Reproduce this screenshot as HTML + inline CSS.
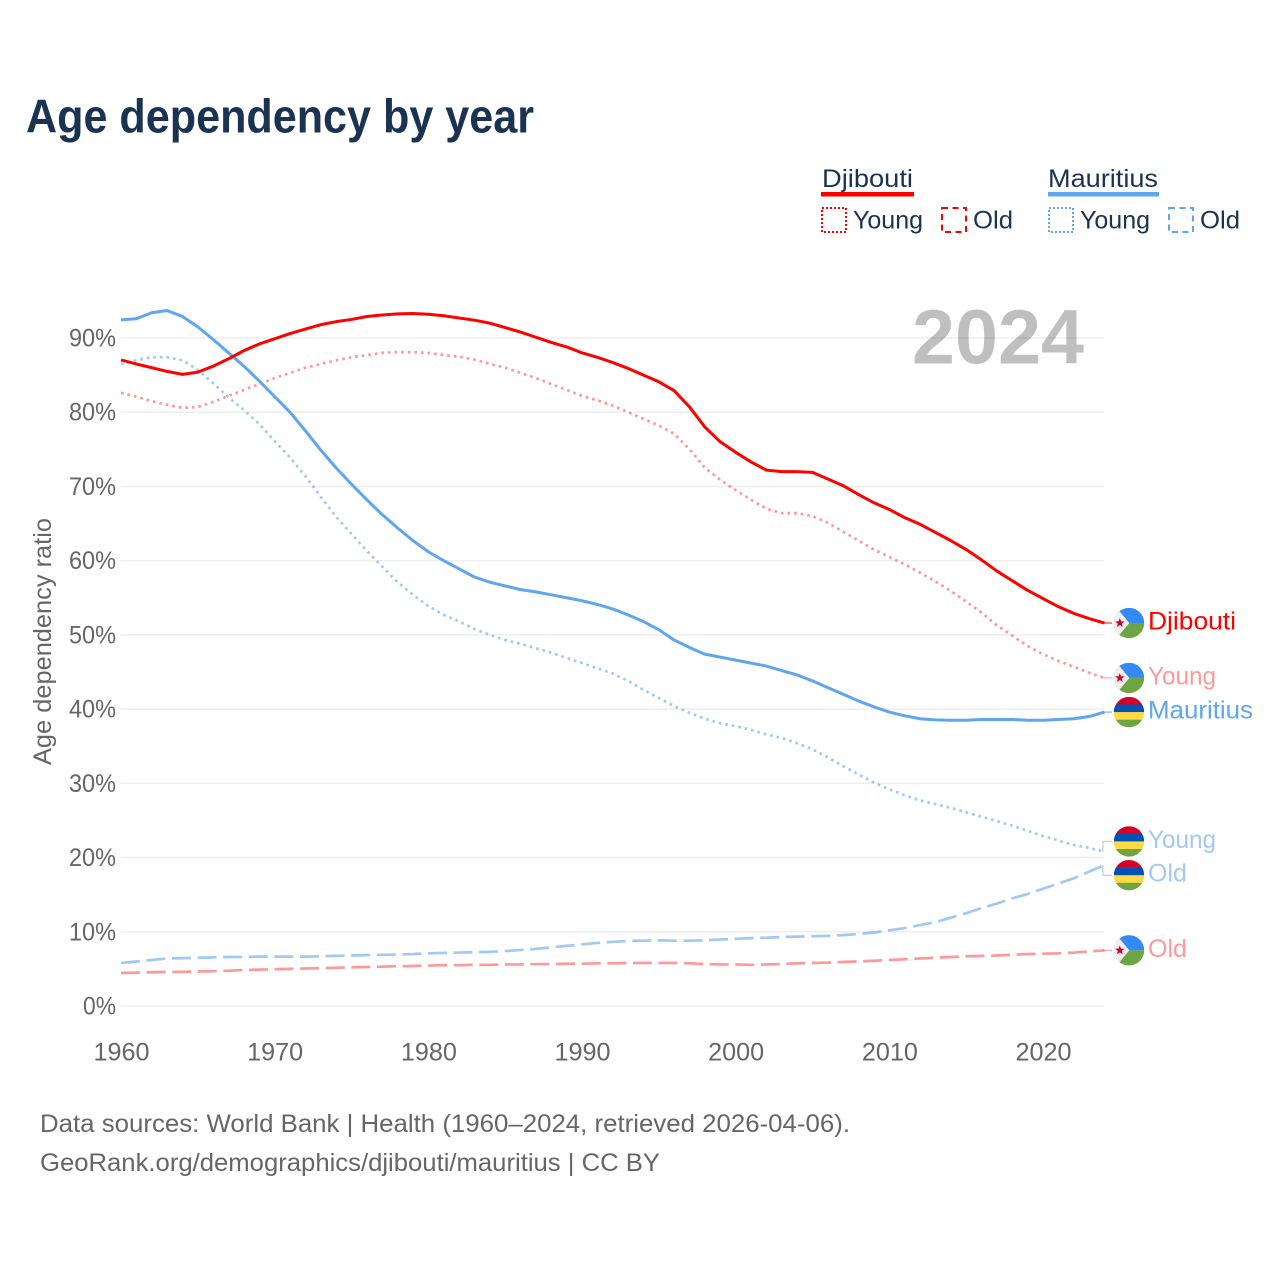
<!DOCTYPE html>
<html lang="en">
<head>
<meta charset="utf-8">
<title>Age dependency by year</title>
<style>
html,body{margin:0;padding:0;background:#fff;}
svg{display:block;font-family:"Liberation Sans",sans-serif;}
</style>
</head>
<body>
<svg id="chart" width="1280" height="1280" viewBox="0 0 1280 1280" xmlns="http://www.w3.org/2000/svg">
  <rect x="0" y="0" width="1280" height="1280" fill="#ffffff"/>
  <text x="26" y="132.5" font-size="47" font-weight="700" fill="#1a3352" textLength="508" lengthAdjust="spacingAndGlyphs">Age dependency by year</text>

  <g font-size="25" fill="#1a3352">
    <text x="822" y="187" textLength="91" lengthAdjust="spacingAndGlyphs">Djibouti</text>
    <rect x="821" y="192" width="93" height="4.5" fill="#ff0000"/>
    <rect x="822" y="208" width="24" height="24" fill="none" stroke="#ff0000" stroke-width="2" stroke-dasharray="2 2"/>
    <text x="853" y="228.5" textLength="70" lengthAdjust="spacingAndGlyphs">Young</text>
    <rect x="942" y="208" width="24" height="24" fill="none" stroke="#ff0000" stroke-width="2" stroke-dasharray="6 4.5"/>
    <text x="973" y="228.5" textLength="40" lengthAdjust="spacingAndGlyphs">Old</text>
    <text x="1048" y="187" textLength="110" lengthAdjust="spacingAndGlyphs">Mauritius</text>
    <rect x="1048" y="192" width="111" height="4.5" fill="#60a5f0"/>
    <rect x="1049" y="208" width="24" height="24" fill="none" stroke="#60a5f0" stroke-width="2" stroke-dasharray="2 2"/>
    <text x="1080" y="228.5" textLength="70" lengthAdjust="spacingAndGlyphs">Young</text>
    <rect x="1169" y="208" width="24" height="24" fill="none" stroke="#60a5f0" stroke-width="2" stroke-dasharray="6 4.5"/>
    <text x="1200" y="228.5" textLength="40" lengthAdjust="spacingAndGlyphs">Old</text>
  </g>

  <g id="grid"></g>
  <g id="yticks" font-size="25" fill="#666666"></g>
  <g id="xticks" font-size="25" fill="#666666"></g>
  <text transform="translate(51,641.5) rotate(-90)" text-anchor="middle" font-size="25" fill="#666666" textLength="247" lengthAdjust="spacingAndGlyphs">Age dependency ratio</text>
  <text x="912" y="363.5" font-size="77" font-weight="700" fill="#000000" fill-opacity="0.25" textLength="172" lengthAdjust="spacingAndGlyphs">2024</text>

  <g id="series"></g>
  <g id="endlabels"></g>

  <text x="40" y="1132" font-size="25" fill="#666666" textLength="810" lengthAdjust="spacingAndGlyphs">Data sources: World Bank | Health (1960–2024, retrieved 2026-04-06).</text>
  <text x="40" y="1171" font-size="25" fill="#666666" textLength="620" lengthAdjust="spacingAndGlyphs">GeoRank.org/demographics/djibouti/mauritius | CC BY</text>
</svg>
<script>
const firstYear = 1960;
const lastYear = 2024;
const xTickYears = [1960, 1970, 1980, 1990, 2000, 2010, 2020];
const yTickValues = [0, 10, 20, 30, 40, 50, 60, 70, 80, 90];

const djiboutiTotal = [
  87.05,86.5,86,85.5,85.1,85.4,86.2,87.2,88.3,89.2,
  89.9,90.6,91.2,91.8,92.2,92.5,92.9,93.1,93.25,93.3,
  93.2,93,92.7,92.4,92,91.4,90.8,90.1,89.4,88.8,
  88,87.4,86.7,85.9,85,84.1,82.9,80.7,78,76,
  74.6,73.3,72.2,72,72,71.9,71,70.1,68.9,67.8,
  66.9,65.8,64.9,63.8,62.7,61.5,60.1,58.6,57.3,56,
  54.9,53.8,52.9,52.2,51.6];
const djiboutiYoung = [
  82.6,82.1,81.5,81,80.6,80.7,81.4,82.2,83,83.8,
  84.6,85.3,86,86.5,87,87.4,87.7,88,88.1,88.1,
  88,87.7,87.5,87.1,86.5,86,85.3,84.6,83.8,83,
  82.2,81.6,80.9,80,79.1,78.2,77.1,75,72.5,70.9,
  69.5,68.2,67,66.4,66.4,66,65.1,63.9,62.7,61.5,
  60.5,59.5,58.4,57.2,55.9,54.5,53,51.3,49.9,48.5,
  47.4,46.5,45.7,44.9,44.2];
const djiboutiOld = [
  4.45,4.5,4.55,4.6,4.6,4.65,4.7,4.75,4.85,4.9,
  4.95,5,5.05,5.1,5.15,5.2,5.25,5.3,5.35,5.4,
  5.45,5.5,5.5,5.55,5.55,5.6,5.6,5.65,5.65,5.7,
  5.7,5.75,5.75,5.8,5.8,5.8,5.8,5.75,5.65,5.6,
  5.6,5.55,5.6,5.65,5.75,5.8,5.85,5.95,6,6.1,
  6.2,6.3,6.4,6.5,6.6,6.7,6.75,6.8,6.9,7,
  7.05,7.1,7.2,7.35,7.5];
const mauritiusTotal = [
  92.45,92.6,93.4,93.7,92.9,91.5,89.8,88,86.2,84.2,
  82.1,80,77.5,74.9,72.5,70.3,68.2,66.2,64.4,62.7,
  61.2,60,58.9,57.8,57.1,56.6,56.1,55.8,55.4,55,
  54.6,54.1,53.5,52.7,51.8,50.7,49.3,48.3,47.4,47,
  46.6,46.2,45.8,45.2,44.6,43.8,42.9,42,41.1,40.3,
  39.6,39.1,38.7,38.55,38.5,38.5,38.6,38.6,38.6,38.5,
  38.5,38.6,38.7,39,39.6];
const mauritiusYoung = [
  86.5,87,87.4,87.4,87,85.7,83.9,82,80.3,78.4,
  76.1,73.9,71.4,68.6,65.9,63.6,61.3,59.2,57.1,55.4,
  53.9,52.7,51.8,50.8,50,49.3,48.8,48.2,47.6,46.9,
  46.2,45.5,44.8,43.8,42.6,41.5,40.4,39.5,38.7,38.1,
  37.7,37.2,36.6,36.1,35.4,34.6,33.5,32.3,31.2,30.1,
  29.2,28.4,27.7,27.2,26.7,26.1,25.5,24.9,24.3,23.6,
  22.9,22.3,21.7,21.3,20.8];
const mauritiusOld = [
  5.8,6,6.2,6.4,6.45,6.5,6.55,6.6,6.6,6.65,
  6.65,6.65,6.65,6.7,6.75,6.8,6.85,6.9,6.95,7,
  7.1,7.15,7.2,7.25,7.3,7.4,7.55,7.7,7.9,8.1,
  8.3,8.5,8.65,8.75,8.8,8.85,8.8,8.8,8.85,8.95,
  9.05,9.15,9.2,9.3,9.35,9.4,9.45,9.55,9.7,9.9,
  10.2,10.5,10.9,11.3,11.9,12.5,13.2,13.8,14.5,15.1,
  15.8,16.5,17.2,18.1,19];

const NS = 'http://www.w3.org/2000/svg';
const xScale = function (year) { return 121 + (year - 1960) * (1043 - 121) / 60; };
const yScale = function (value) { return 1006 - value * (1006 - 338) / 90; };
const plotRight = xScale(lastYear);
const RED = '#ff0000';
const BLUE = '#60a5f0';
const DOT = '2.7 3.9';
const DASH = '19 6.6';

function make(tag, attrs) {
  const el = document.createElementNS(NS, tag);
  Object.keys(attrs).forEach(function (k) { el.setAttribute(k, attrs[k]); });
  return el;
}

const gridG = document.getElementById('grid');
const yG = document.getElementById('yticks');
yTickValues.forEach(function (v) {
  const line = make('line', { x1: 120.5, x2: plotRight, y1: yScale(v), y2: yScale(v), stroke: '#eeeeee', 'stroke-width': 1.5 });
  
  
  gridG.appendChild(line);
  const t = make('text', { x: 116, y: yScale(v) + 8.5, 'text-anchor': 'end', textLength: v === 0 ? 33 : 47, lengthAdjust: 'spacingAndGlyphs' });
  
  
  t.textContent = v + '%';
  yG.appendChild(t);
});

const xG = document.getElementById('xticks');
xTickYears.forEach(function (yr) {
  const t = make('text', { x: xScale(yr) + 0.5, y: 1060.5, 'text-anchor': 'middle', textLength: 56, lengthAdjust: 'spacingAndGlyphs' });
  
  
  t.textContent = yr;
  xG.appendChild(t);
});

const seriesList = [
  { name: 'djibouti-old', values: djiboutiOld, color: RED, opacity: 0.4, dash: DASH, width: 2.7, label: 'Old', flag: 'dj', labelWidth: 39 },
  { name: 'mauritius-old', values: mauritiusOld, color: BLUE, opacity: 0.6, dash: DASH, width: 2.7, label: 'Old', flag: 'mu', labelWidth: 39 },
  { name: 'djibouti-young', values: djiboutiYoung, color: RED, opacity: 0.4, dash: DOT, width: 2.7, label: 'Young', flag: 'dj', labelWidth: 68 },
  { name: 'mauritius-young', values: mauritiusYoung, color: BLUE, opacity: 0.6, dash: DOT, width: 2.7, label: 'Young', flag: 'mu', labelWidth: 68 },
  { name: 'mauritius-total', values: mauritiusTotal, color: BLUE, opacity: 1, dash: '', width: 3, label: 'Mauritius', flag: 'mu', labelWidth: 105 },
  { name: 'djibouti-total', values: djiboutiTotal, color: RED, opacity: 1, dash: '', width: 3, label: 'Djibouti', flag: 'dj', labelWidth: 88 }
];

const seriesG = document.getElementById('series');
seriesList.forEach(function (s) {
  const d = s.values.map(function (v, i) {
    return (i ? 'L' : 'M') + xScale(firstYear + i).toFixed(2) + ' ' + yScale(v).toFixed(2);
  }).join('');
  const p = make('path', { d: d, fill: 'none', stroke: s.color, 'stroke-opacity': s.opacity, 'stroke-width': s.width, 'stroke-linejoin': 'round' });
  if (s.dash) p.setAttribute('stroke-dasharray', s.dash);
  
  
  seriesG.appendChild(p);
});

/* dodge end labels so that flags do not overlap */
const placed = seriesList.map(function (s) {
  const endY = yScale(s.values[s.values.length - 1]);
  return { s: s, endY: endY, y: endY };
}).sort(function (a, b) { return a.endY - b.endY; });
const minGap = 33.8;
for (let pass = 0; pass < 20; pass++) {
  for (let i = 1; i < placed.length; i++) {
    const overlap = minGap - (placed[i].y - placed[i - 1].y);
    if (overlap > 0) {
      placed[i - 1].y -= overlap / 2;
      placed[i].y += overlap / 2;
    }
  }
}

let clipCount = 0;
function drawFlag(parent, kind, cx, cy, name) {
  const r = 15.2;
  const id = 'flag-clip-' + (clipCount++);
  const clip = make('clipPath', { id: id });
  clip.appendChild(make('circle', { cx: cx, cy: cy, r: r }));
  parent.appendChild(clip);
  const g = make('g', { 'clip-path': 'url(#' + id + ')' });
  
  
  const x0 = cx - r, w = 2 * r, y0 = cy - r;
  if (kind === 'mu') {
    const cols = ['#d80027', '#0052b4', '#ffda44', '#6da544'];
    cols.forEach(function (c, i) {
      g.appendChild(make('rect', { x: x0, y: y0 + i * w / 4, width: w, height: w / 4 + 0.3, fill: c }));
    });
  } else {
    g.appendChild(make('rect', { x: x0, y: y0, width: w, height: r, fill: '#338af3' }));
    g.appendChild(make('rect', { x: x0, y: cy, width: w, height: r, fill: '#6da544' }));
    g.appendChild(make('polygon', { points: (x0 + 4.5) + ',' + (y0 + 2) + ' ' + (cx + 0.3) + ',' + cy + ' ' + (x0 + 4.5) + ',' + (y0 + w - 2) + ' ' + x0 + ',' + (y0 + w) + ' ' + x0 + ',' + y0, fill: '#f0f0f0' }));
    const sc = 5, pts = [];
    for (let k = 0; k < 10; k++) {
      const rad = k % 2 ? sc * 0.42 : sc;
      const ang = -Math.PI / 2 + k * Math.PI / 5;
      pts.push((x0 + 6 + rad * Math.cos(ang)).toFixed(2) + ',' + (cy + rad * Math.sin(ang)).toFixed(2));
    }
    g.appendChild(make('polygon', { points: pts.join(' '), fill: '#d80027' }));
  }
  parent.appendChild(g);
}

const labelsG = document.getElementById('endlabels');
placed.forEach(function (p) {
  const s = p.s;
  const conn = make('path', {
    d: 'M' + (plotRight - 1.5) + ' ' + p.endY.toFixed(2) + 'V' + p.y.toFixed(2) + 'H1112',
    fill: 'none', stroke: s.color, 'stroke-opacity': s.opacity, 'stroke-width': 1
  });
  
  
  labelsG.appendChild(conn);
  drawFlag(labelsG, s.flag, 1129, p.y, 'flag-' + s.name);
  const t = make('text', { x: 1148, y: p.y + 6.5, 'font-size': 25, fill: s.color, 'fill-opacity': s.opacity, textLength: s.labelWidth, lengthAdjust: 'spacingAndGlyphs' });
  
  
  t.textContent = s.label;
  labelsG.appendChild(t);
});
</script>
</body>
</html>
